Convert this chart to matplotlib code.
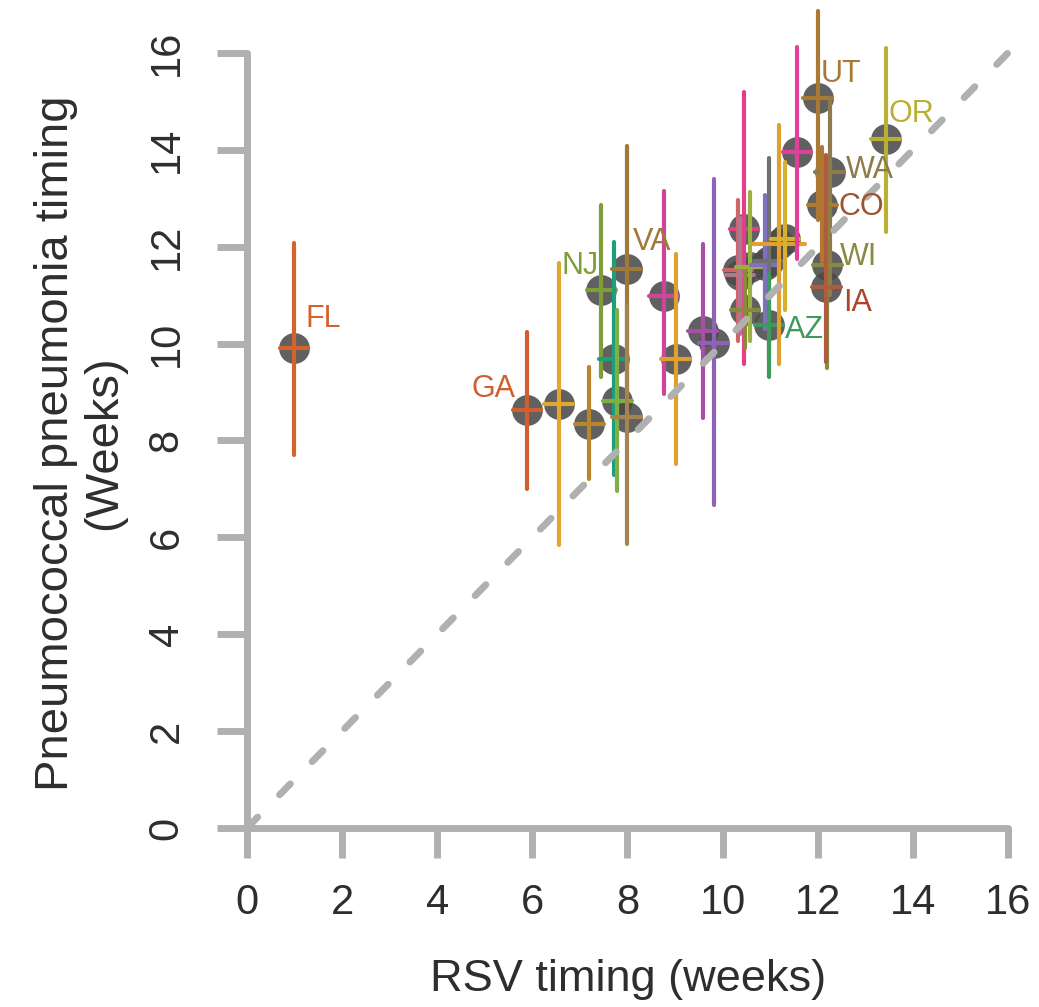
import matplotlib
matplotlib.use("Agg")
import matplotlib.pyplot as plt
import numpy as np

plt.rcParams["font.family"] = ["Liberation Sans", "DejaVu Sans"]

# State-level timing estimates (weeks): RSV on x, pneumococcal pneumonia on y
states = ["FL", "GA", "", "", "NJ", "", "", "VA", "", "", "", "", "",
          "", "", "", "", "", "", "", "AZ", "", "", "", "UT", "WA", "CO",
          "WI", "IA", "OR"]
rsv = [0.99, 5.89, 6.55, 7.20, 7.45, 7.71, 7.79, 7.98, 7.98, 8.76, 9.01,
       9.58, 9.81, 10.45, 10.32, 10.37, 10.58, 10.47, 10.89, 10.97, 10.98,
       11.18, 11.31, 11.56, 12.00, 12.25, 12.10, 12.20, 12.18, 13.43]
rsv_err = [0.3, 0.3, 0.3, 0.3, 0.3, 0.3, 0.3, 0.3, 0.3, 0.3, 0.3, 0.3, 0.3,
           0.3, 0.3, 0.3, 0.3, 0.3, 0.3, 0.3, 0.3, 0.55, 0.3, 0.3, 0.3, 0.3,
           0.3, 0.3, 0.3, 0.3]
pneu = [9.90, 8.62, 8.76, 8.33, 11.10, 9.69, 8.82, 11.55, 8.49, 10.99, 9.69,
        10.27, 10.02, 12.37, 11.52, 11.42, 11.58, 10.69, 11.62, 11.70, 10.38,
        12.06, 12.16, 13.95, 15.08, 13.55, 12.87, 11.63, 11.16, 14.23]
pneu_lo = [7.71, 7.00, 5.85, 7.21, 9.32, 7.29, 6.96, 9.00, 5.87, 8.95, 7.52,
           8.47, 6.67, 9.58, 10.05, 10.20, 10.05, 9.90, 10.30, 9.62, 9.31,
           9.58, 10.69, 11.75, 12.56, 11.00, 11.70, 9.49, 9.63, 12.31]
pneu_hi = [12.07, 10.23, 11.67, 9.52, 12.87, 12.09, 10.70, 14.07, 10.80,
           13.14, 11.84, 12.05, 13.39, 15.19, 12.96, 12.60, 13.13, 11.50,
           13.07, 13.83, 11.43, 14.51, 13.75, 16.12, 16.86, 15.06, 14.05,
           13.00, 13.90, 16.10]

palette = ["#D4642E", "#CF5F2C", "#E2A72E", "#B8862E", "#7E9E3A", "#1E9E7A",
           "#7DB046", "#A07838", "#A68450", "#D0449A", "#DFA030", "#A850A8",
           "#8E62B8", "#E0408A", "#D06468", "#B07890", "#9AB040", "#8A8A3C",
           "#8070C0", "#707070", "#3E9A5C", "#E0A030", "#D8B030", "#E0409A",
           "#A87A34", "#8E7A4A", "#B07830", "#8A8A40", "#B05A40", "#B8B035"]
label_colors = {"FL": "#D4642E", "GA": "#CF5F2C", "NJ": "#7E9E3A",
                "VA": "#A07838", "AZ": "#3E9A5C", "UT": "#A87A34",
                "WA": "#8E7A4A", "CO": "#A0522D", "WI": "#8A8A40",
                "IA": "#B0442A", "OR": "#B8B035"}
# label placement: (dx, dy) offset in pixels and horizontal alignment
label_offsets = {"FL": (11, 29, "left"), "GA": (-12, 21, "right"),
                 "NJ": (-3, 24, "right"), "VA": (6, 27, "left"),
                 "AZ": (16, -5, "left"), "UT": (3, 24, "left"),
                 "WA": (16, 2, "left"), "CO": (16, -2, "left"),
                 "WI": (13, 8, "left"), "IA": (17, -16, "left"),
                 "OR": (3, 25, "left")}

ticks = [0, 2, 4, 6, 8, 10, 12, 14, 16]

W, H = 1039, 1007
fig = plt.figure(figsize=(W / 100, H / 100), dpi=100)
ppx, ppy = 47.56, 48.44          # pixels per week on each axis
left_px, base_px = 247, 828
ax = fig.add_axes([left_px / W, (H - base_px) / H, (W - left_px) / W, base_px / H])
ax.set_xlim(0, (W - left_px) / ppx)
ax.set_ylim(0, base_px / ppy)

axis_grey = "#b0b0b0"
text_grey = "#2e2e2e"
for side in ("top", "right"):
    ax.spines[side].set_visible(False)
for side in ("left", "bottom"):
    sp = ax.spines[side]
    sp.set_bounds(0, 16)
    sp.set_color(axis_grey)
    sp.set_linewidth(5)
    sp.set_capstyle("round")
ax.set_xticks(ticks)
ax.set_yticks(ticks)
ax.tick_params(length=21.5, width=5, color=axis_grey, labelsize=30,
               labelcolor=text_grey)
ax.tick_params(axis="x", pad=18)
ax.tick_params(axis="y", pad=22)
for lab in ax.get_yticklabels():
    lab.set_rotation(90)
    lab.set_verticalalignment("center")

# circles
ax.scatter(rsv, pneu, s=490, color="#4a4a4a", alpha=0.88, linewidths=0,
           zorder=2, clip_on=False)

# crosshair error bars
for i in range(len(rsv)):
    yerr = [[pneu[i] - pneu_lo[i]], [pneu_hi[i] - pneu[i]]]
    eb = ax.errorbar([rsv[i]], [pneu[i]], xerr=[[rsv_err[i]], [rsv_err[i]]],
                     yerr=yerr, fmt="none", ecolor=palette[i],
                     elinewidth=3, capsize=0, zorder=3)
    for lc in eb[2]:
        lc.set_capstyle("round")
        lc.set_clip_on(False)

# identity line
ax.plot([0, 16], [0, 16], color=axis_grey, lw=5, dashes=[2.2, 4.5],
        solid_capstyle="round", dash_capstyle="round", zorder=4)

# state labels
for i, st in enumerate(states):
    if not st:
        continue
    dx, dy, ha = label_offsets[st]
    ax.annotate(st, (rsv[i], pneu[i]), xytext=(dx * 0.72, dy * 0.72),
                textcoords="offset points", ha=ha, va="center",
                fontsize=22, color=label_colors[st], zorder=5)

fig.text(628 / W, 1 - 980 / H, "RSV timing (weeks)", ha="center",
         va="center", fontsize=32.5, color=text_grey)
fig.text(80 / W, 1 - 443 / H, "Pneumococcal pneumonia timing\n(Weeks)",
         rotation=90, ha="center", va="center", multialignment="center",
         fontsize=34, color=text_grey, linespacing=1.12)

fig.savefig("out.png", dpi=100)
